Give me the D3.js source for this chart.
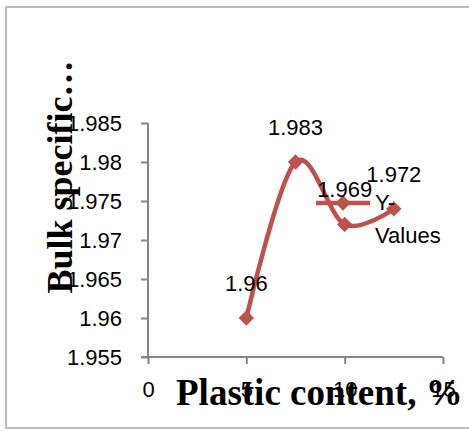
<!DOCTYPE html>
<html>
<head>
<meta charset="utf-8">
<script src="https://cdn.jsdelivr.net/npm/d3@7"></script>
<style>
  body { margin: 0; background: #fff; }
  svg { display: block; }
</style>
</head>
<body>
<div id="chart"></div>
<script>
// data
const plasticContent = [5, 7.5, 10, 12.5];
const bulkSpecific = [1.96, 1.98, 1.972, 1.974];
const pointLabels = ["1.96", "1.983", "1.969", "1.972"];
const xTicks = [0, 5, 10, 15];
const yTicks = [1.955, 1.96, 1.965, 1.97, 1.975, 1.98, 1.985];
const seriesName = ["Y-", "Values"];

const W = 469, H = 431;
const red = "#c0504d";
const axisGrey = "#868686";
const tickFont = "'Liberation Sans', Arial, sans-serif";
const tickSize = 22;
const titleFont = "'Liberation Serif', 'Times New Roman', serif";

const svg = d3.select("#chart").append("svg")
    .attr("width", W)
    .attr("height", H);

// chart frame
svg.append("rect")
    .attr("x", 6).attr("y", 7)
    .attr("width", 470).attr("height", 421)
    .attr("fill", "#fff")
    .attr("stroke", "#a6a6a6")
    .attr("stroke-width", 1.5);

const x = d3.scaleLinear().domain([0, 15]).range([148, 443]);
const y = d3.scaleLinear().domain([1.955, 1.985]).range([357, 123]);

// y axis
const yAxis = svg.append("g")
    .attr("transform", `translate(${x(0)},0)`)
    .call(d3.axisLeft(y).tickValues(yTicks).tickSize(7).tickPadding(19)
        .tickFormat(d => String(+d.toFixed(3))));
yAxis.selectAll("path, line").attr("stroke", axisGrey).attr("stroke-width", 2);
yAxis.select(".domain").attr("d", `M0,${y(1.985)}V${y(1.955)}`);
yAxis.selectAll("text")
    .attr("font-family", tickFont).attr("font-size", tickSize).attr("fill", "#000");

// x axis
const xAxis = svg.append("g")
    .attr("transform", `translate(0,${y(1.955)})`)
    .call(d3.axisBottom(x).tickValues(xTicks).tickSize(7).tickPadding(17));
xAxis.selectAll("path, line").attr("stroke", axisGrey).attr("stroke-width", 2);
xAxis.select(".domain").attr("d", `M${x(0) - 7},0H${x(15)}`);
xAxis.selectAll("text")
    .attr("font-family", tickFont).attr("font-size", tickSize).attr("fill", "#000");

// axis titles
svg.append("text")
    .attr("transform", `translate(72,${177}) rotate(-90)`)
    .attr("text-anchor", "middle")
    .attr("font-family", titleFont).attr("font-weight", "bold").attr("font-size", 36)
    .text("Bulk specific…");

svg.append("text")
    .attr("x", 176).attr("y", 405)
    .attr("font-family", titleFont).attr("font-weight", "bold").attr("font-size", 37)
    .text("Plastic content,  %");

// series
const points = plasticContent.map((v, i) => ({ x: v, y: bulkSpecific[i], label: pointLabels[i] }));

const line = d3.line()
    .x(d => x(d.x))
    .y(d => y(d.y))
    .curve(d3.curveCatmullRom.alpha(0));

svg.append("path")
    .datum(points)
    .attr("d", line)
    .attr("fill", "none")
    .attr("stroke", red)
    .attr("stroke-width", 4.5)
    .attr("stroke-linejoin", "round");

const diamond = d3.symbol().type(d3.symbolDiamond2).size(150);

svg.append("g").selectAll("path")
    .data(points)
    .join("path")
    .attr("transform", d => `translate(${x(d.x)},${y(d.y)})`)
    .attr("d", diamond)
    .attr("fill", red);

// legend (sits inside the plot, as in the original)
const legend = svg.append("g");
legend.append("line")
    .attr("x1", 316).attr("x2", 370).attr("y1", 203).attr("y2", 203)
    .attr("stroke", red).attr("stroke-width", 4.5);
legend.append("path")
    .attr("transform", "translate(343,203)")
    .attr("d", diamond)
    .attr("fill", red);
legend.selectAll("text")
    .data(seriesName)
    .join("text")
    .attr("x", 375)
    .attr("y", (d, i) => 210 + i * 33)
    .attr("font-family", tickFont).attr("font-size", tickSize)
    .text(d => d);

// data labels
svg.append("g").selectAll("text")
    .data(points)
    .join("text")
    .attr("x", d => x(d.x))
    .attr("y", d => y(d.y) - 27)
    .attr("text-anchor", "middle")
    .attr("font-family", tickFont).attr("font-size", tickSize)
    .text(d => d.label);
</script>
</body>
</html>
